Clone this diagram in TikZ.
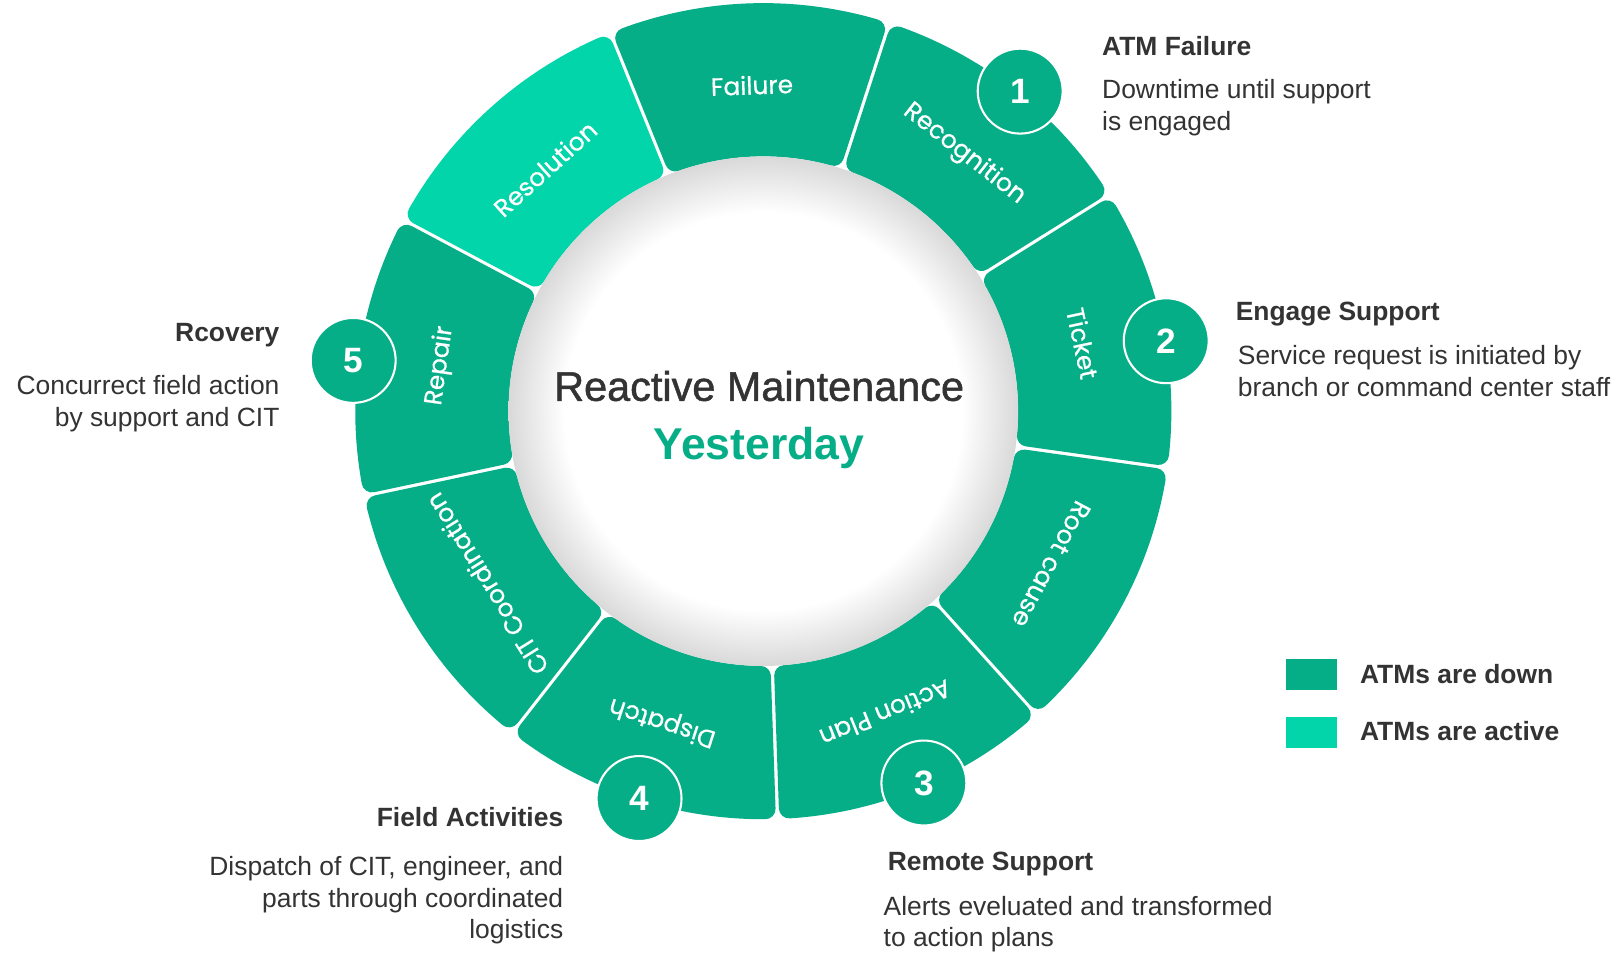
\documentclass[tikz,border=0pt]{standalone}
\usepackage{fontspec}
\setmainfont{Liberation Sans}
\newfontfamily\poppfont[FakeBold=0.6]{Poppins}
\newfontfamily\titlefont[FakeBold=1.2]{Liberation Sans}
\definecolor{tdark}{RGB}{6,174,136}
\definecolor{tlight}{RGB}{2,213,169}
\definecolor{txtgray}{RGB}{51,51,51}
\pgfdeclareradialshading{innerglow}{\pgfpoint{0bp}{0bp}}{color(0bp)=(white); color(19.5bp)=(white); color(25bp)=(black!15); color(50bp)=(black!15)}
\def\Ro{394}
\def\Ri{246}
\def\rc{10}
\def\gp{1.6}
\def\rl{315}
\newcommand{\ringtile}[3]{%
  \pgfmathsetmacro{\rOut}{\Ro-\rc}%
  \pgfmathsetmacro{\rIn}{\Ri+\rc}%
  \pgfmathsetmacro{\dO}{asin((\rc+\gp)/\rOut)}%
  \pgfmathsetmacro{\dI}{asin((\rc+\gp)/\rIn)}%
  \pgfmathsetmacro{\aOs}{#1+\dO}%
  \pgfmathsetmacro{\aOe}{#2-\dO}%
  \pgfmathsetmacro{\aIs}{#1+\dI}%
  \pgfmathsetmacro{\aIe}{#2-\dI}%
  \path[fill=#3, draw=#3, line width=20pt, line join=round]
    (\aOs:\rOut) arc[start angle=\aOs, end angle=\aOe, radius=\rOut]
    -- (\aIe:\rIn) arc[start angle=\aIe, end angle=\aIs, radius=\rIn] -- cycle;
}
\tikzset{
  tlabel/.style={text=white, inner sep=0pt, font=\poppfont\fontsize{24}{24}\selectfont},
  numc/.style={circle, fill=tdark, draw=white, line width=2pt, minimum size=82pt, inner sep=0pt, text=white, font=\fontsize{34}{34}\selectfont\bfseries},
  head/.style={inner sep=0pt, text=txtgray, font=\fontsize{25.5}{31}\selectfont\bfseries},
  body/.style={inner sep=0pt, text=txtgray, font=\fontsize{25.5}{31}\selectfont},
  legsq/.style={fill=#1, draw=none}
}
\begin{document}
\begin{tikzpicture}[x=1pt,y=1pt]
\useasboundingbox (0,0) rectangle (1568,921);
\fill[white] (0,0) rectangle (1568,921);
\begin{scope}[shift={(737,524)}]
  \ringtile{72}{112}{tdark}
  \ringtile{112}{152}{tlight}
  \ringtile{152}{192}{tdark}
  \ringtile{192}{232}{tdark}
  \ringtile{232}{272}{tdark}
  \ringtile{272}{312}{tdark}
  \ringtile{312}{352}{tdark}
  \ringtile{-8}{32}{tdark}
  \ringtile{32}{72}{tdark}
  \shade[shading=innerglow] (0,0) circle (\Ri);
  \node[tlabel, rotate=2] (lfail) at (92:\rl) {Failure};
  \node[tlabel, rotate=42] (lreso) at (132:\rl) {Resolution};
  \node[tlabel, rotate=82] (lrep) at (172:\rl) {Repair};
  \node[tlabel, rotate=122] (lcit) at (212:\rl) {CIT Coordination};
  \node[tlabel, rotate=162] (ldisp) at (252:\rl) {Dispatch};
  \node[tlabel, rotate=202] (lact) at (292:\rl) {Action Plan};
  \node[tlabel, rotate=242] (lroot) at (332:\rl) {Root cause};
  \node[tlabel, rotate=-78] (ltick) at (12:\rl) {Ticket};
  \node[tlabel, rotate=-38] (lrec) at (52:\rl) {Recognition};
\end{scope}
% centre title
\node[inner sep=0pt, anchor=base, text=txtgray, font=\titlefont\fontsize{40}{40}\selectfont] (title) at (733,534) {Reactive Maintenance};
\node[inner sep=0pt, anchor=base, text=tdark, font=\fontsize{43}{43}\selectfont\bfseries] (yest) at (733,477) {Yesterday};
% number circles
\node[numc] (n1) at (985,833) {1};
\node[numc] (n2) at (1126,592) {2};
\node[numc] (n3) at (892,165) {3};
\node[numc] (n4) at (617,150) {4};
\node[numc] (n5) at (341,573) {5};
% step texts
\node[head, anchor=base west] (h1) at (1064,867) {ATM Failure};
\node[body, anchor=base west] (b1a) at (1064,826) {Downtime until support};
\node[body, anchor=base west] (b1b) at (1064,795) {is engaged};
\node[head, anchor=base west] (h2) at (1193,612) {Engage Support};
\node[body, anchor=base west] (b2a) at (1195,569) {Service request is initiated by};
\node[body, anchor=base west] (b2b) at (1195,538) {branch or command center staff};
\node[head, anchor=base west] (h3) at (857,81) {Remote Support};
\node[body, anchor=base west] (b3a) at (853,37) {Alerts eveluated and transformed};
\node[body, anchor=base west] (b3b) at (853,7) {to action plans};
\node[head, anchor=base east] (h4) at (544,123) {Field Activities};
\node[body, anchor=base east] (b4a) at (544,76) {Dispatch of CIT, engineer, and};
\node[body, anchor=base east] (b4b) at (544,45) {parts through coordinated};
\node[body, anchor=base east] (b4c) at (544,15) {logistics};
\node[head, anchor=base east] (h5) at (270,591) {Rcovery};
\node[body, anchor=base east] (b5a) at (270,540) {Concurrect field action};
\node[body, anchor=base east] (b5b) at (270,509) {by support and CIT};
% legend
\fill[legsq=tdark] (1242,255) rectangle (1291,285);
\fill[legsq=tlight] (1242,199) rectangle (1291,229);
\node[head, anchor=base west] (lg1) at (1313,261) {ATMs are down};
\node[head, anchor=base west] (lg2) at (1313,206) {ATMs are active};
\end{tikzpicture}
\end{document}
